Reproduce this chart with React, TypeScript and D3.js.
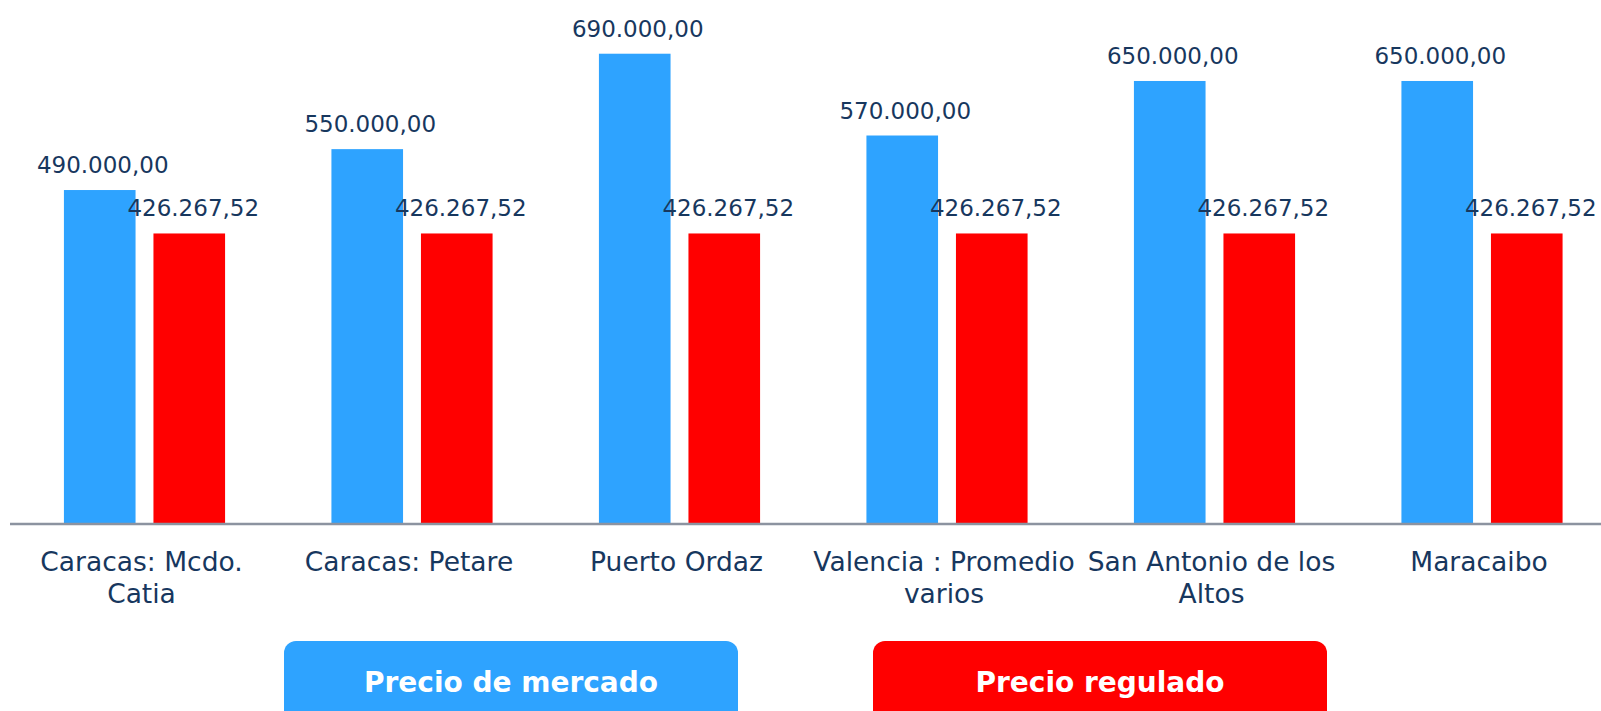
import React from "react";
import * as d3 from "d3";

const categories: string[][] = [
  ["Caracas: Mcdo.", "Catia"],
  ["Caracas: Petare"],
  ["Puerto Ordaz"],
  ["Valencia : Promedio", "varios"],
  ["San Antonio de los", "Altos"],
  ["Maracaibo"],
];
const marketPrice: number[] = [490000, 550000, 690000, 570000, 650000, 650000];
const regulatedPrice: number[] = [426267.52, 426267.52, 426267.52, 426267.52, 426267.52, 426267.52];
const seriesNames: string[] = ["Precio de mercado", "Precio regulado"];
const seriesColors: string[] = ["#2EA3FF", "#FF0000"];

const W = 1601;
const H = 711;
const FONT = "'DejaVu Sans', sans-serif";
const TEXT = "#17375E";

const fmt = (v: number) => {
  const [i, d] = v.toFixed(2).split(".");
  return i.replace(/\B(?=(\d{3})+(?!\d))/g, ".") + "," + d;
};

export default function App() {
  const x0 = d3
    .scaleBand<number>()
    .domain(categories.map((_, i) => i))
    .range([10.75, 10.75 + 267.5 * 6])
    .paddingInner(0)
    .paddingOuter(0);
  const x1 = d3
    .scaleBand<number>()
    .domain([0, 1])
    .range([0, x0.bandwidth()])
    .paddingInner(0.2)
    .paddingOuter(0.594);
  const axisY = 524;
  const y = d3.scaleLinear().domain([0, 700000]).range([axisY, axisY - 477.1]);
  const series = [marketPrice, regulatedPrice];

  return (
    <svg
      width={W}
      height={H}
      style={{ position: "absolute", left: 0, top: 0, display: "block", background: "#fff" }}
      fontFamily={FONT}
    >
      {categories.map((cat, i) => (
        <g key={i} transform={`translate(${x0(i)},0)`}>
          {series.map((s, k) => {
            const bx = x1(k)!;
            const bw = x1.bandwidth();
            const top = y(s[i]);
            return (
              <g key={k}>
                <rect x={bx} y={top} width={bw} height={axisY - top} fill={seriesColors[k]} />
                <text
                  x={bx + bw / 2 + (k === 1 ? 4 : 3)}
                  y={top - 17}
                  textAnchor="middle"
                  fontSize={23}
                  fill={TEXT}
                >
                  {fmt(s[i])}
                </text>
              </g>
            );
          })}
          {cat.map((line, j) => (
            <text
              key={j}
              x={x0.bandwidth() / 2 - 3}
              y={571 + j * 32}
              textAnchor="middle"
              fontSize={26.5}
              fill={TEXT}
            >
              {line}
            </text>
          ))}
        </g>
      ))}
      <line x1={10} x2={W} y1={axisY} y2={axisY} stroke="#8C93A0" strokeWidth={2.5} />
      {seriesNames.map((name, k) => {
        const lx = k === 0 ? 284 : 873;
        return (
          <g key={k}>
            <rect x={lx} y={641} width={454} height={90} rx={12} fill={seriesColors[k]} />
            <text
              x={lx + 227}
              y={692}
              textAnchor="middle"
              fontSize={28}
              fontWeight="bold"
              fill="#fff"
            >
              {name}
            </text>
          </g>
        );
      })}
    </svg>
  );
}
